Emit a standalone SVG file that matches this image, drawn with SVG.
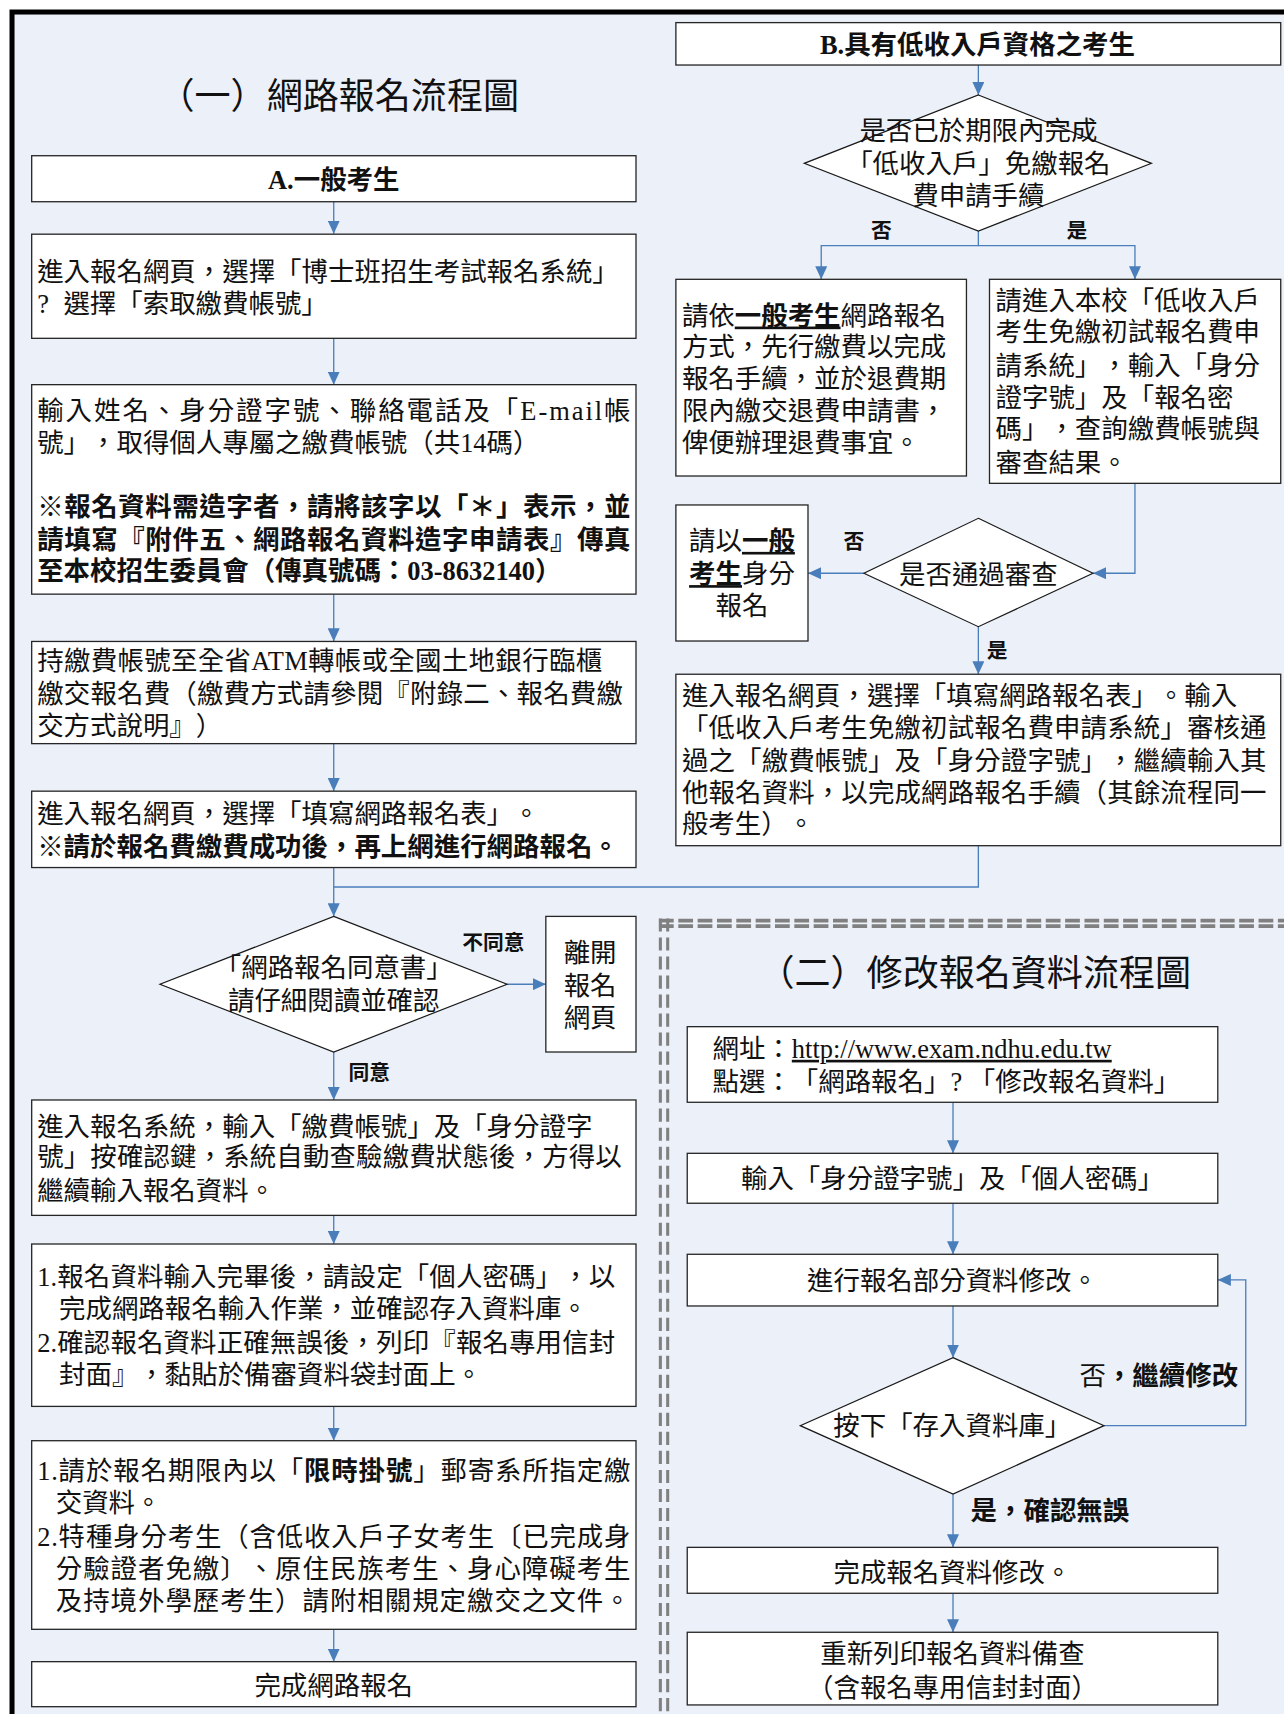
<svg xmlns="http://www.w3.org/2000/svg" width="1284" height="1714" viewBox="0 0 1284 1714">
<style>
.bx{fill:#fff;stroke:#262626;stroke-width:1.2}
.dm{fill:#fff;stroke:#1a1a1a;stroke-width:1.1}
.cn{fill:none;stroke:#4A7EBB;stroke-width:1.2}
.t{font-family:"Liberation Serif","Noto Sans CJK TC",serif;font-size:24.2px;fill:#111;text-spacing-trim:space-all}
.c{text-anchor:middle}
.b{font-weight:bold}
.lb{font-size:19px;font-weight:bold}
.tt{font-size:33px}
.u{text-decoration:underline}
.dh{fill:none;stroke:#808080;stroke-width:3.4;stroke-dasharray:13.5 4.2}
.dv{fill:none;stroke:#808080;stroke-width:2.8;stroke-dasharray:12 5.4}
</style>
<defs>
<marker id="arr" markerWidth="12" markerHeight="11" refX="12" refY="5.5" orient="auto" markerUnits="userSpaceOnUse">
<path d="M0,0 L12,5.5 L0,11 Z" fill="#4A7EBB"/>
</marker>
</defs>
<rect x="0" y="0" width="1284" height="1714" fill="#fff"/>
<g transform="scale(1.09277)">
<rect id="frame" x="11" y="11" width="1300" height="1700" fill="#ECF0F8" stroke="#000" stroke-width="4.6"/>
<g id="section2-border">
<line class="dh" x1="603" y1="842.4" x2="1180" y2="842.4"/>
<line class="dh" x1="603" y1="847.5" x2="1180" y2="847.5"/>
<line class="dv" x1="604.3" y1="840.5" x2="604.3" y2="1575"/>
<line class="dv" x1="611" y1="840.5" x2="611" y2="1575"/>
</g>

<g id="connectors">
<path class="cn" d="M305.4,184.6 V214" marker-end="url(#arr)"/>
<path class="cn" d="M305.4,309.6 V352" marker-end="url(#arr)"/>
<path class="cn" d="M305.4,543.7 V587" marker-end="url(#arr)"/>
<path class="cn" d="M305.4,680.5 V724" marker-end="url(#arr)"/>
<path class="cn" d="M305.4,793.9 V838.6" marker-end="url(#arr)"/>
<path class="cn" d="M895.3,773.9 V811.7 H305.4"/>
<path class="cn" d="M464,900.7 H499.5" marker-end="url(#arr)"/>
<path class="cn" d="M305.4,962.7 V1006.6" marker-end="url(#arr)"/>
<path class="cn" d="M305.4,1112.2 V1138.4" marker-end="url(#arr)"/>
<path class="cn" d="M305.4,1287 V1318.4" marker-end="url(#arr)"/>
<path class="cn" d="M305.4,1491 V1520.6" marker-end="url(#arr)"/>
<path class="cn" d="M895.3,59.5 V86.9" marker-end="url(#arr)"/>
<path class="cn" d="M895.3,211.4 V224.8 H751.5 V255.6" marker-end="url(#arr)"/>
<path class="cn" d="M895.3,224.8 H1038.6 V255.6" marker-end="url(#arr)"/>
<path class="cn" d="M1038.6,442.3 V524.6 H1000.2" marker-end="url(#arr)"/>
<path class="cn" d="M790.6,524.6 H739.4" marker-end="url(#arr)"/>
<path class="cn" d="M895.3,573.5 V617" marker-end="url(#arr)"/>
<path class="cn" d="M872.1,1008.7 V1055.4" marker-end="url(#arr)"/>
<path class="cn" d="M872.1,1101.1 V1147.8" marker-end="url(#arr)"/>
<path class="cn" d="M872.1,1195.1 V1242.4" marker-end="url(#arr)"/>
<path class="cn" d="M1010.3,1304.6 H1140 V1171.3 H1114.4" marker-end="url(#arr)"/>
<path class="cn" d="M872.1,1367.2 V1416" marker-end="url(#arr)"/>
<path class="cn" d="M872.1,1458 V1493.7" marker-end="url(#arr)"/>
</g>

<g id="title1"><text class="t tt c" x="310" y="99.5">（一）網路報名流程圖</text></g>

<g id="nodeA">
<rect class="bx" x="29" y="142.5" width="553" height="42.1"/>
<text class="t c b" x="305.4" y="173">A.一般考生</text>
</g>
<g id="node-a1">
<rect class="bx" x="29" y="214.3" width="553" height="95.3"/>
<text class="t" x="34" y="257">進入報名網頁，選擇「博士班招生考試報名系統」</text>
<text class="t" y="286"><tspan x="34">?</tspan><tspan x="58">選擇「索取繳費帳號」</tspan></text>
</g>
<g id="node-a2">
<rect class="bx" x="29" y="352" width="553" height="191.7"/>
<text class="t" x="34" y="384" textLength="543" lengthAdjust="spacing">輸入姓名、身分證字號、聯絡電話及「E-mail帳</text>
<text class="t" x="34" y="414">號」，取得個人專屬之繳費帳號（共14碼）</text>
<text class="t b" x="34" y="472.5" textLength="543" lengthAdjust="spacing">※報名資料需造字者，請將該字以「＊」表示，並</text>
<text class="t b" x="34" y="502" textLength="543" lengthAdjust="spacing">請填寫『附件五、網路報名資料造字申請表』傳真</text>
<text class="t b" x="34" y="531">至本校招生委員會（傳真號碼：03-8632140）</text>
</g>
<g id="node-a3">
<rect class="bx" x="29" y="587" width="553" height="93.5"/>
<text class="t" x="34" y="613" textLength="517" lengthAdjust="spacing">持繳費帳號至全省ATM轉帳或全國土地銀行臨櫃</text>
<text class="t" x="34" y="643" textLength="536" lengthAdjust="spacing">繳交報名費（繳費方式請參閱『附錄二、報名費繳</text>
<text class="t" x="34" y="673">交方式說明』）</text>
</g>
<g id="node-a4">
<rect class="bx" x="29" y="724" width="553" height="69.9"/>
<text class="t" x="34" y="753.5">進入報名網頁，選擇「填寫網路報名表」。</text>
<text class="t b" x="34" y="783.5">※請於報名費繳費成功後，再上網進行網路報名。</text>
</g>
<g id="node-consent">
<polygon class="dm" points="305.4,838.6 464,900.7 305.4,962.7 146.4,900.7"/>
<text class="t c" x="305.4" y="894">「網路報名同意書」</text>
<text class="t c" x="305.4" y="924">請仔細閱讀並確認</text>
</g>
<g id="node-leave">
<rect class="bx" x="499.5" y="838.6" width="82.5" height="124.1"/>
<text class="t c" x="540" y="880">離開</text>
<text class="t c" x="540" y="910.4">報名</text>
<text class="t c" x="540" y="940">網頁</text>
</g>
<g id="label-disagree"><text class="t lb" x="423" y="869">不同意</text></g>
<g id="label-agree"><text class="t lb" x="319" y="988.4">同意</text></g>
<g id="node-a5">
<rect class="bx" x="29" y="1006.6" width="553" height="105.6"/>
<text class="t" x="34" y="1039.4">進入報名系統，輸入「繳費帳號」及「身分證字</text>
<text class="t" x="34" y="1067.2" textLength="535" lengthAdjust="spacing">號」按確認鍵，系統自動查驗繳費狀態後，方得以</text>
<text class="t" x="34" y="1098.3">繼續輸入報名資料。</text>
</g>
<g id="node-a6">
<rect class="bx" x="29" y="1138.4" width="553" height="148.6"/>
<text class="t" x="34" y="1176.7" textLength="529" lengthAdjust="spacing">1.報名資料輸入完畢後，請設定「個人密碼」，以</text>
<text class="t" x="54" y="1206">完成網路報名輸入作業，並確認存入資料庫。</text>
<text class="t" x="34" y="1237" textLength="529" lengthAdjust="spacing">2.確認報名資料正確無誤後，列印『報名專用信封</text>
<text class="t" x="54" y="1266.3">封面』，黏貼於備審資料袋封面上。</text>
</g>
<g id="node-a7">
<rect class="bx" x="29" y="1318.4" width="553" height="172.6"/>
<text class="t" x="34" y="1354.2" textLength="543" lengthAdjust="spacing">1.請於報名期限內以「<tspan class="b">限時掛號</tspan>」郵寄系所指定繳</text>
<text class="t" x="51" y="1383.2">交資料。</text>
<text class="t" x="34" y="1415.2" textLength="543" lengthAdjust="spacing">2.特種身分考生（含低收入戶子女考生〔已完成身</text>
<text class="t" x="51" y="1444.2" textLength="526" lengthAdjust="spacing">分驗證者免繳〕、原住民族考生、身心障礙考生</text>
<text class="t" x="51" y="1473.2" textLength="526" lengthAdjust="spacing">及持境外學歷考生）請附相關規定繳交之文件。</text>
</g>
<g id="node-a8">
<rect class="bx" x="29" y="1520.6" width="553" height="41.2"/>
<text class="t c" x="305.4" y="1551">完成網路報名</text>
</g>

<g id="nodeB">
<rect class="bx" x="618.5" y="20.7" width="553.5" height="38.8"/>
<text class="t c b" x="894.5" y="49.5">B.具有低收入戶資格之考生</text>
</g>
<g id="node-b-check">
<polygon class="dm" points="895.3,86.9 1053.7,149.5 895.3,211.4 736,149.5"/>
<text class="t c" x="895.3" y="128">是否已於期限內完成</text>
<text class="t c" x="895.3" y="158.5">「低收入戶」免繳報名</text>
<text class="t c" x="895.3" y="187.4">費申請手續</text>
</g>
<g id="label-b-no"><text class="t lb" x="797" y="218">否</text></g>
<g id="label-b-yes"><text class="t lb" x="976" y="218">是</text></g>
<g id="node-b-no">
<rect class="bx" x="618.5" y="255.6" width="265.9" height="180"/>
<text class="t" x="624" y="297">請依<tspan class="b u">一般考生</tspan>網路報名</text>
<text class="t" x="624" y="326.2">方式，先行繳費以完成</text>
<text class="t" x="624" y="355.2">報名手續，並於退費期</text>
<text class="t" x="624" y="384.2">限內繳交退費申請書，</text>
<text class="t" x="624" y="413.2">俾便辦理退費事宜。</text>
</g>
<g id="node-b-yes">
<rect class="bx" x="905.5" y="255.6" width="266.5" height="186.7"/>
<text class="t" x="911" y="283.5">請進入本校「低收入戶</text>
<text class="t" x="911" y="312.5">考生免繳初試報名費申</text>
<text class="t" x="911" y="343">請系統」，輸入「身分</text>
<text class="t" x="911" y="372">證字號」及「報名密</text>
<text class="t" x="911" y="401">碼」，查詢繳費帳號與</text>
<text class="t" x="911" y="431.5">審查結果。</text>
</g>
<g id="node-b-review">
<polygon class="dm" points="895.3,474.3 1000.2,524.6 895.3,573.5 790.6,524.6"/>
<text class="t c" x="895.3" y="534.5">是否通過審查</text>
</g>
<g id="label-review-no"><text class="t lb" x="772" y="502.7">否</text></g>
<g id="label-review-yes"><text class="t lb" x="903" y="602.4">是</text></g>
<g id="node-b-general">
<rect class="bx" x="618.5" y="462.1" width="120.9" height="124.5"/>
<text class="t c" x="679" y="503.2">請以<tspan class="b u">一般</tspan></text>
<text class="t c" x="679" y="533.6"><tspan class="b u">考生</tspan>身分</text>
<text class="t c" x="679" y="562.6">報名</text>
</g>
<g id="node-b-form">
<rect class="bx" x="618.5" y="617" width="553.5" height="156.9"/>
<text class="t" x="624" y="645">進入報名網頁，選擇「填寫網路報名表」。輸入</text>
<text class="t" x="624" y="674" textLength="535" lengthAdjust="spacing">「低收入戶考生免繳初試報名費申請系統」審核通</text>
<text class="t" x="624" y="704.5" textLength="535" lengthAdjust="spacing">過之「繳費帳號」及「身分證字號」，繼續輸入其</text>
<text class="t" x="624" y="733.5" textLength="535" lengthAdjust="spacing">他報名資料，以完成網路報名手續（其餘流程同一</text>
<text class="t" x="624" y="762.4">般考生）。</text>
</g>

<g id="title2"><text class="t tt c" x="892" y="902">（二）修改報名資料流程圖</text></g>
<g id="node-c-url">
<rect class="bx" x="628.9" y="939.5" width="485.5" height="69.2"/>
<text class="t" x="652" y="968">網址：<tspan class="u">http://www.exam.ndhu.edu.tw</tspan></text>
<text class="t" x="652" y="998.8">點選：「網路報名」? 「修改報名資料」</text>
</g>
<g id="node-c-login">
<rect class="bx" x="628.9" y="1055.4" width="485.5" height="45.7"/>
<text class="t c" x="871.6" y="1087">輸入「身分證字號」及「個人密碼」</text>
</g>
<g id="node-c-edit">
<rect class="bx" x="628.9" y="1147.8" width="485.5" height="47.3"/>
<text class="t c" x="871.6" y="1180.3">進行報名部分資料修改。</text>
</g>
<g id="node-c-save">
<polygon class="dm" points="872.1,1242.4 1010.3,1304.6 872.1,1367.2 732.3,1304.6"/>
<text class="t c" x="871.4" y="1313.6">按下「存入資料庫」</text>
</g>
<g id="label-c-no"><text class="t" x="987.8" y="1267.3">否<tspan class="b">，繼續修改</tspan></text></g>
<g id="label-c-yes"><text class="t b" x="888.2" y="1390.8">是，確認無誤</text></g>
<g id="node-c-done">
<rect class="bx" x="628.9" y="1416" width="485.5" height="42"/>
<text class="t c" x="871.6" y="1447.3">完成報名資料修改。</text>
</g>
<g id="node-c-print">
<rect class="bx" x="628.9" y="1493.7" width="485.5" height="66.5"/>
<text class="t c" x="871.6" y="1522">重新列印報名資料備查</text>
<text class="t c" x="871.6" y="1552.5">（含報名專用信封封面）</text>
</g>
</g>
</svg>
